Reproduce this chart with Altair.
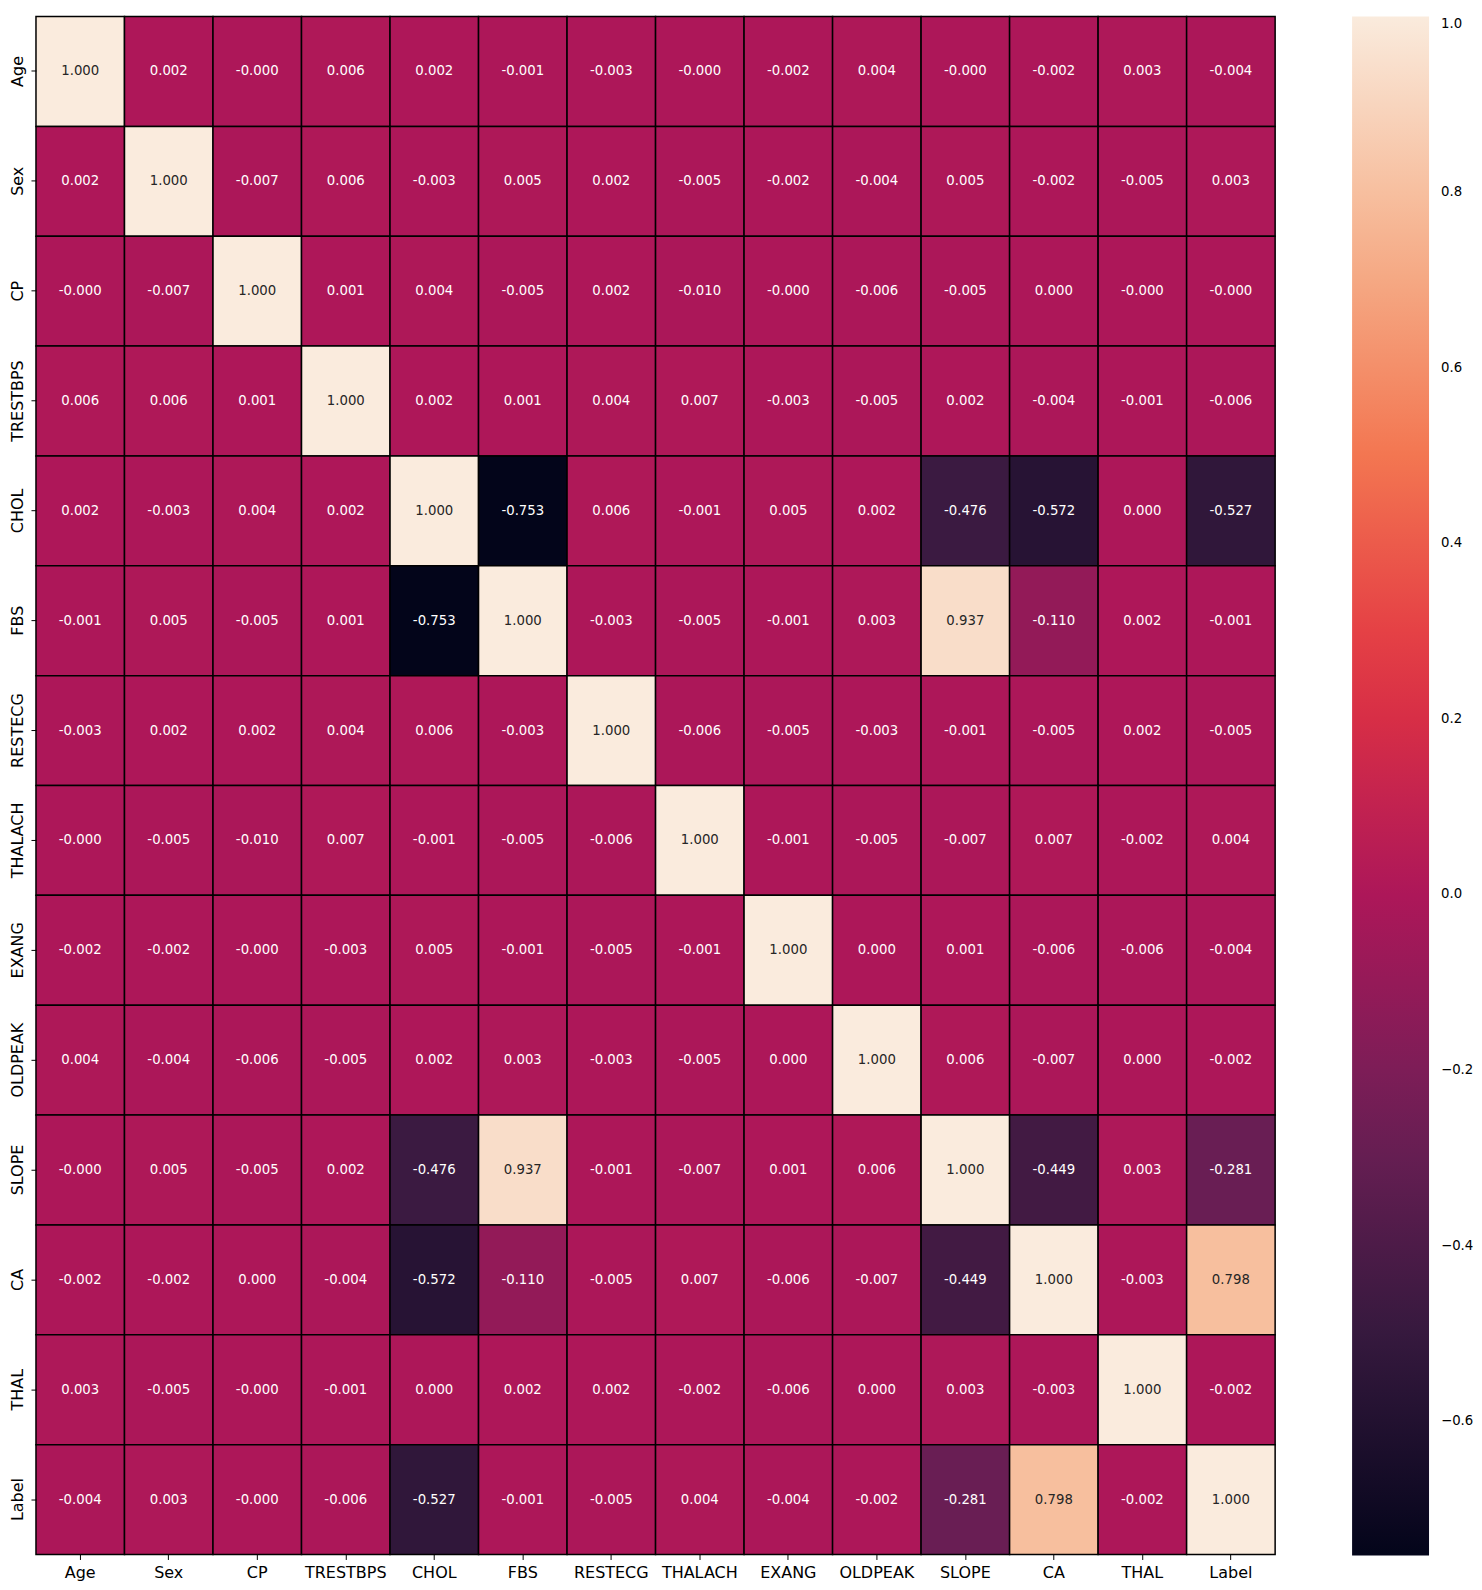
import altair as alt
import pandas as pd

cols = ["Age", "Sex", "CP", "TRESTBPS", "CHOL", "FBS", "RESTECG", "THALACH",
        "EXANG", "OLDPEAK", "SLOPE", "CA", "THAL", "Label"]

r_age      = ["1.000", "0.002", "-0.000", "0.006", "0.002", "-0.001", "-0.003", "-0.000", "-0.002", "0.004", "-0.000", "-0.002", "0.003", "-0.004"]
r_sex      = ["0.002", "1.000", "-0.007", "0.006", "-0.003", "0.005", "0.002", "-0.005", "-0.002", "-0.004", "0.005", "-0.002", "-0.005", "0.003"]
r_cp       = ["-0.000", "-0.007", "1.000", "0.001", "0.004", "-0.005", "0.002", "-0.010", "-0.000", "-0.006", "-0.005", "0.000", "-0.000", "-0.000"]
r_trestbps = ["0.006", "0.006", "0.001", "1.000", "0.002", "0.001", "0.004", "0.007", "-0.003", "-0.005", "0.002", "-0.004", "-0.001", "-0.006"]
r_chol     = ["0.002", "-0.003", "0.004", "0.002", "1.000", "-0.753", "0.006", "-0.001", "0.005", "0.002", "-0.476", "-0.572", "0.000", "-0.527"]
r_fbs      = ["-0.001", "0.005", "-0.005", "0.001", "-0.753", "1.000", "-0.003", "-0.005", "-0.001", "0.003", "0.937", "-0.110", "0.002", "-0.001"]
r_restecg  = ["-0.003", "0.002", "0.002", "0.004", "0.006", "-0.003", "1.000", "-0.006", "-0.005", "-0.003", "-0.001", "-0.005", "0.002", "-0.005"]
r_thalach  = ["-0.000", "-0.005", "-0.010", "0.007", "-0.001", "-0.005", "-0.006", "1.000", "-0.001", "-0.005", "-0.007", "0.007", "-0.002", "0.004"]
r_exang    = ["-0.002", "-0.002", "-0.000", "-0.003", "0.005", "-0.001", "-0.005", "-0.001", "1.000", "0.000", "0.001", "-0.006", "-0.006", "-0.004"]
r_oldpeak  = ["0.004", "-0.004", "-0.006", "-0.005", "0.002", "0.003", "-0.003", "-0.005", "0.000", "1.000", "0.006", "-0.007", "0.000", "-0.002"]
r_slope    = ["-0.000", "0.005", "-0.005", "0.002", "-0.476", "0.937", "-0.001", "-0.007", "0.001", "0.006", "1.000", "-0.449", "0.003", "-0.281"]
r_ca       = ["-0.002", "-0.002", "0.000", "-0.004", "-0.572", "-0.110", "-0.005", "0.007", "-0.006", "-0.007", "-0.449", "1.000", "-0.003", "0.798"]
r_thal     = ["0.003", "-0.005", "-0.000", "-0.001", "0.000", "0.002", "0.002", "-0.002", "-0.006", "0.000", "0.003", "-0.003", "1.000", "-0.002"]
r_label    = ["-0.004", "0.003", "-0.000", "-0.006", "-0.527", "-0.001", "-0.005", "0.004", "-0.004", "-0.002", "-0.281", "0.798", "-0.002", "1.000"]

rows = [r_age, r_sex, r_cp, r_trestbps, r_chol, r_fbs, r_restecg, r_thalach,
        r_exang, r_oldpeak, r_slope, r_ca, r_thal, r_label]

legend_ticks = [-0.6, -0.4, -0.2, 0.0, 0.2, 0.4, 0.6, 0.8, 1.0]

# rocket colormap stops
rocket = ["#03051a", "#35193e", "#701f57", "#ad1759", "#e13342", "#f37651", "#f6b48f", "#faebdd"]

records = []
for rname, row in zip(cols, rows):
    for cname, s in zip(cols, row):
        records.append({"row": rname, "col": cname, "label": s, "value": float(s)})
df = pd.DataFrame(records)

lo = df["value"].min()
hi = df["value"].max()
n = len(rocket) - 1
dom = [lo + i / n * (hi - lo) for i in range(n + 1)]

FONT = "DejaVu Sans"

x_enc = alt.X("col:O", sort=cols, title=None,
              scale=alt.Scale(paddingInner=0, paddingOuter=0),
              axis=alt.Axis(labelAngle=0, labelFontSize=16, labelFont=FONT, labelColor="black",
                            tickSize=5, tickColor="black", tickWidth=1, labelPadding=5,
                            domain=False, grid=False))
y_enc = alt.Y("row:O", sort=cols, title=None,
              scale=alt.Scale(paddingInner=0, paddingOuter=0),
              axis=alt.Axis(labelAngle=-90, labelFontSize=16, labelFont=FONT, labelColor="black",
                            tickSize=5, tickColor="black", tickWidth=1, labelPadding=5,
                            labelAlign="center", labelBaseline="bottom",
                            domain=False, grid=False))

base = alt.Chart(df)

rect = base.mark_rect(stroke="black", strokeWidth=1.5).encode(
    x=x_enc,
    y=y_enc,
    color=alt.Color("value:Q",
                    scale=alt.Scale(domain=dom, range=rocket, interpolate="rgb"),
                    legend=alt.Legend(values=legend_ticks, format=".1f", title=None,
                                      gradientLength=1540, gradientThickness=77,
                                      gradientStrokeWidth=0, labelFontSize=13.3,
                                      labelFont=FONT, labelColor="black",
                                      labelOffset=12, offset=77, padding=0,
                                      labelBaseline="middle", labelOverlap=False,
                                      direction="vertical", orient="right")),
)

text = base.mark_text(font=FONT, fontSize=13.3).encode(
    x=alt.X("col:O", sort=cols),
    y=alt.Y("row:O", sort=cols),
    text="label:N",
    color=alt.condition(alt.datum.value > 0.5, alt.value("#262626"), alt.value("white")),
)

chart = (rect + text).properties(
    width=1240, height=1539,
    padding={"left": 1, "top": 7, "right": 0, "bottom": 0},
).configure_view(stroke=None)

chart.save("out.html", embed_options={"renderer": "svg", "actions": False})
